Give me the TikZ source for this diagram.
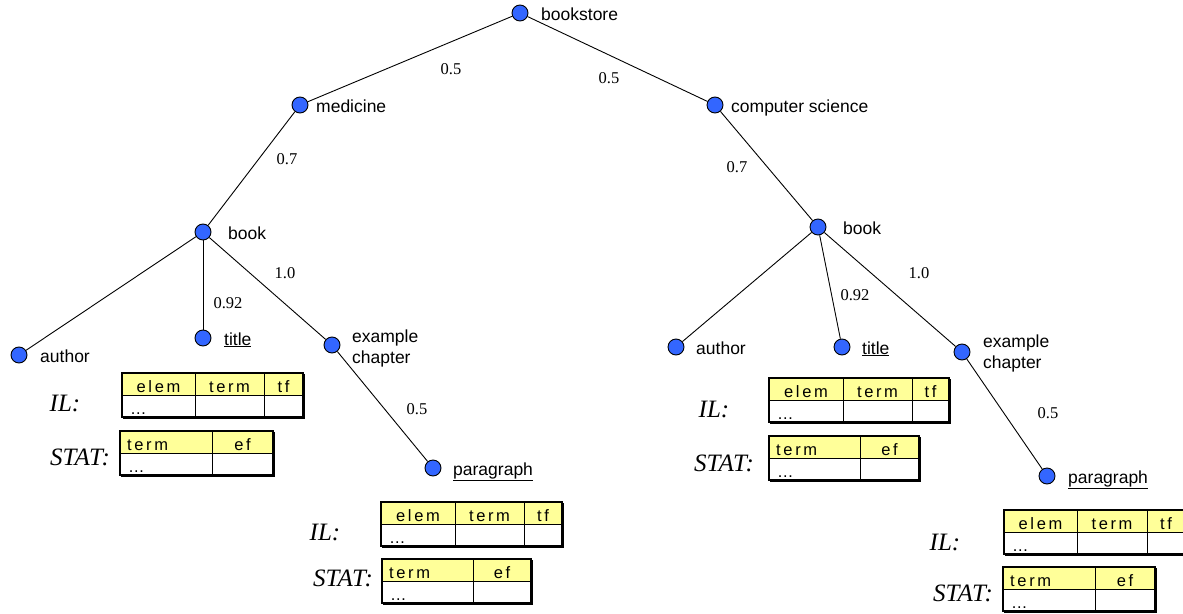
\documentclass[tikz,border=0pt]{standalone}
\usepackage{fontspec}
\setmainfont{Liberation Sans}
\newfontfamily\serifface{Liberation Serif}
\newfontfamily\cellface[LetterSpace=16]{Liberation Sans}
\definecolor{nodeblue}{RGB}{51,102,255}
\definecolor{headyellow}{RGB}{255,255,153}

\tikzset{
  vertex/.style={circle, draw=black, fill=nodeblue, minimum size=16pt, inner sep=0pt, line width=0.9pt},
  tag/.style={anchor=base west, inner sep=0pt, font=\fontsize{17.5}{21}\selectfont},
  twoline/.style={anchor=west, inner sep=0pt, align=left, font=\fontsize{17.5}{21}\selectfont},
  weight/.style={inner sep=0pt, font=\serifface\fontsize{16.5}{18}\selectfont},
  tablbl/.style={inner sep=0pt, font=\serifface\itshape\fontsize{25}{28}\selectfont},
  cell/.style={inner sep=0pt, font=\cellface\fontsize{16.5}{18}\selectfont},
  branch/.style={line width=0.9pt},
  grid/.style={line width=0.8pt},
  frame/.style={line width=1.2pt},
  shade/.style={line width=2pt},
}

% IL table: prefix, left x, first split, second split, right x, top y
\newcommand\drawIL[6]{%
  \fill[headyellow] (#2,#6) rectangle (#5,#6+22);
  \draw[grid] (#2,#6+22) -- (#5,#6+22) (#3,#6) -- (#3,#6+44) (#4,#6) -- (#4,#6+44);
  \draw[frame] (#2,#6) rectangle (#5,#6+44);
  \draw[shade] (#5+1,#6+1) -- (#5+1,#6+45) -- (#2+1,#6+45);
  \node[cell, anchor=base] (#1-elem) at ({(#2+#3)/2},#6+19) {elem};
  \node[cell, anchor=base] (#1-term) at ({(#3+#4)/2},#6+19) {term};
  \node[cell, anchor=base] (#1-tf) at ({(#4+#5)/2},#6+19) {tf};
  \node[cell, anchor=base west] (#1-dots) at (#2+8,#6+41) {\ldots};
}
% STAT table: prefix, left x, split, right x, top y
\newcommand\drawSTAT[5]{%
  \fill[headyellow] (#2,#5) rectangle (#4,#5+22);
  \draw[grid] (#2,#5+22) -- (#4,#5+22) (#3,#5) -- (#3,#5+44);
  \draw[frame] (#2,#5) rectangle (#4,#5+44);
  \draw[shade] (#4+1,#5+1) -- (#4+1,#5+45) -- (#2+1,#5+45);
  \node[cell, anchor=base west] (#1-term) at (#2+7,#5+19) {term};
  \node[cell, anchor=base] (#1-ef) at ({(#3+#4)/2},#5+19) {ef};
  \node[cell, anchor=base west] (#1-dots) at (#2+8,#5+41) {\ldots};
}

\begin{document}
\begin{tikzpicture}[x=1pt, y=-1pt]
\useasboundingbox (0,0) rectangle (1183,613);

% tree vertices
\node[vertex] (bookstore) at (520,13) {};
\node[vertex] (med) at (300,105) {};
\node[vertex] (cs) at (715,105) {};
\node[vertex] (bookL) at (203,232) {};
\node[vertex] (bookR) at (818,227) {};
\node[vertex] (authorL) at (19,355) {};
\node[vertex] (titleL) at (203,338) {};
\node[vertex] (chapL) at (332,345) {};
\node[vertex] (paraL) at (433,468) {};
\node[vertex] (authorR) at (676,347) {};
\node[vertex] (titleR) at (842,347) {};
\node[vertex] (chapR) at (962,352) {};
\node[vertex] (paraR) at (1047,476) {};

% branches
\draw[branch] (bookstore) -- (med);
\draw[branch] (bookstore) -- (cs);
\draw[branch] (med) -- (bookL);
\draw[branch] (cs) -- (bookR);
\draw[branch] (bookL) -- (authorL);
\draw[branch] (bookL) -- (titleL);
\draw[branch] (bookL) -- (chapL);
\draw[branch] (chapL) -- (paraL);
\draw[branch] (bookR) -- (authorR);
\draw[branch] (bookR) -- (titleR);
\draw[branch] (bookR) -- (chapR);
\draw[branch] (chapR) -- (paraR);

% vertex names
\node[tag] (t-bookstore) at (541,20) {bookstore};
\node[tag] (t-med) at (316,112) {medicine};
\node[tag] (t-cs) at (731,112) {computer science};
\node[tag] (t-bookL) at (228,239) {book};
\node[tag] (t-bookR) at (843,234) {book};
\node[tag] (t-authorL) at (40,362) {author};
\node[tag] (t-titleL) at (224,345) {\underline{title}};
\node[twoline] (t-chapL) at (352,348) {example\\chapter};
\node[tag] (t-paraL) at (453,475) {\underline{paragraph}};
\node[tag] (t-authorR) at (696,354) {author};
\node[tag] (t-titleR) at (862,354) {\underline{title}};
\node[twoline] (t-chapR) at (983,353) {example\\chapter};
\node[tag] (t-paraR) at (1068,483) {\underline{paragraph}};

% branch weights
\node[weight] (w1) at (451,69) {0.5};
\node[weight] (w2) at (609,78) {0.5};
\node[weight] (w3) at (287,159) {0.7};
\node[weight] (w4) at (737,167) {0.7};
\node[weight] (w5) at (228,303) {0.92};
\node[weight] (w6) at (285,273) {1.0};
\node[weight] (w7) at (417,409) {0.5};
\node[weight] (w8) at (855,295) {0.92};
\node[weight] (w9) at (919,273) {1.0};
\node[weight] (w10) at (1048,413) {0.5};

% index and statistics tables
\node[tablbl] (il1) at (65,403) {IL:};
\drawIL{ilA}{122}{195}{264}{303}{373}
\node[tablbl] (st1) at (80,457) {STAT:};
\drawSTAT{stA}{120}{212}{273}{431}

\node[tablbl] (il2) at (325,532) {IL:};
\drawIL{ilB}{381}{455}{524}{562}{502}
\node[tablbl] (st2) at (343,578) {STAT:};
\drawSTAT{stB}{382}{473}{531}{559}

\node[tablbl] (il3) at (714,409) {IL:};
\drawIL{ilC}{769}{843}{912}{949}{378}
\node[tablbl] (st3) at (724,463) {STAT:};
\drawSTAT{stC}{769}{860}{919}{436}

\node[tablbl] (il4) at (945,542) {IL:};
\drawIL{ilD}{1004}{1077}{1147}{1185}{510}
\node[tablbl] (st4) at (963,593) {STAT:};
\drawSTAT{stD}{1003}{1095}{1155}{567}
\end{tikzpicture}
\end{document}
